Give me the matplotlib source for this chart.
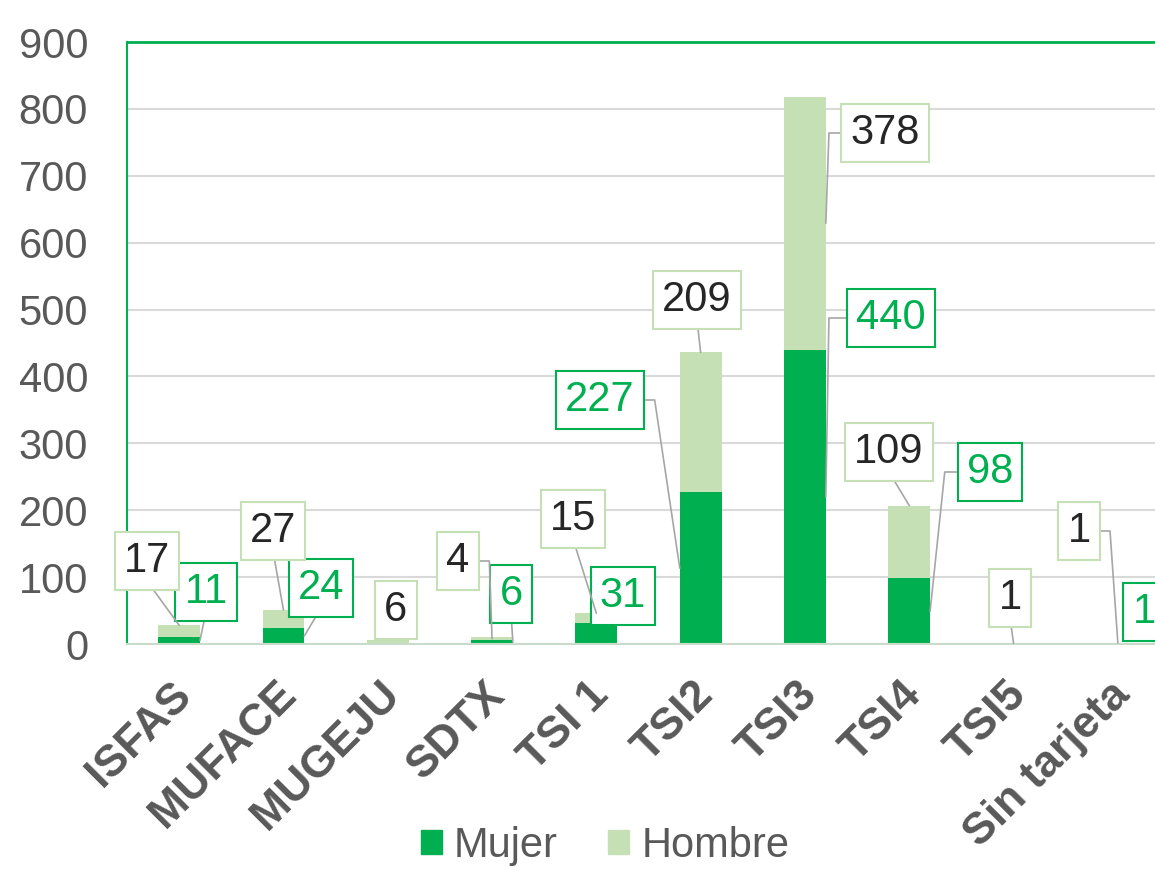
import numpy as np
import matplotlib
matplotlib.use("Agg")
import matplotlib.pyplot as plt
from matplotlib.patches import Patch
from matplotlib.transforms import ScaledTranslation

# datos
categorias = ["ISFAS", "MUFACE", "MUGEJU", "SDTX", "TSI 1", "TSI2", "TSI3", "TSI4", "TSI5", "Sin tarjeta"]
mujer = [11, 24, 0, 6, 31, 227, 440, 98, 0, 1]
hombre = [17, 27, 6, 4, 15, 209, 378, 109, 1, 1]
yticks = [0, 100, 200, 300, 400, 500, 600, 700, 800, 900]

VERDE = "#00B050"
VERDE_CLARO = "#C5E0B4"
GRIS = "#595959"
GRIS_GUIA = "#A6A6A6"

W, H = 1155, 869
ANCHO = 0.4

# posicion de cada etiqueta (centro de la caja en pixeles de la imagen)
# guia: None | ("recta", lado, nivel) | ("codo", lado, nivel, anguloB, relpos_x)
etiquetas_mujer = {
    0: (206, 592, ("recta", 1, "mid")),
    1: (321, 588, ("recta", 1, "mid")),
    3: (511, 594, ("recta", 1, "mid")),
    4: (623, 596, None),
    5: (600, 400, ("codo", -1, "mid", 98.5, 1)),
    6: (891, 318, ("codo", 1, "mid", 89, 0)),
    7: (990, 472, ("codo", 1, "mid", 84, 0)),
    9: (1144, 612, None),
}
etiquetas_hombre = {
    0: (147, 561, ("recta", 0, "top")),
    1: (273, 531, ("recta", 0, "top")),
    2: (396, 610, None),
    3: (458, 561, ("codo", 0, "mid", 92, 1)),
    4: (573, 519, ("recta", 0, "top")),
    5: (697, 300, ("recta", 0, "top")),
    6: (885, 133, ("codo", 1, "mid", 88, 0)),
    7: (889, 452, ("recta", 0, "top")),
    8: (1010, 598, ("recta", 0, "top")),
    9: (1079, 531, ("codo", 0, "mid", 94, 1)),
}

plt.rcParams["font.family"] = ["Liberation Sans", "DejaVu Sans"]

fig = plt.figure(figsize=(W / 100, H / 100), dpi=100)
ax = fig.add_axes([127 / W, (H - 644) / H, 1043 / W, 602 / H])

x = np.arange(len(categorias))
ax.bar(x, mujer, width=ANCHO, color=VERDE, zorder=2)
ax.bar(x, hombre, width=ANCHO, bottom=mujer, color=VERDE_CLARO, zorder=2)

ax.set_xlim(-0.5, len(categorias) - 0.5)
ax.set_ylim(0, 900)
ax.set_yticks(yticks)
ax.yaxis.grid(True, color="#D9D9D9", lw=1.5)
ax.set_axisbelow(True)

ax.spines["right"].set_visible(False)
ax.spines["left"].set_color(VERDE)
ax.spines["left"].set_linewidth(1.5)
ax.spines["top"].set_color(VERDE)
ax.spines["top"].set_linewidth(2)
ax.spines["bottom"].set_color("#C9DCC9")
ax.spines["bottom"].set_linewidth(1.5)

ax.tick_params(axis="y", length=0, pad=28, labelsize=30, labelcolor=GRIS)
ax.tick_params(axis="x", length=0, pad=32)
ax.set_xticks(x)
ax.set_xticklabels(categorias, rotation=45, ha="right", va="center",
                   rotation_mode="anchor", fontweight="bold", fontsize=32, color=GRIS)
desp = ScaledTranslation(6 / 100, 0, fig.dpi_scale_trans)
for lbl in ax.get_xticklabels():
    lbl.set_transform(lbl.get_transform() + desp)


def etiquetar(valores, base, conf, color_txt, color_borde):
    for i, (bx, by, guia) in conf.items():
        v = valores[i]
        if v == 0:
            continue
        arrow = None
        xa, ya = i, base[i] + v
        if guia is not None:
            lado, nivel = guia[1], guia[2]
            xa = i + lado * ANCHO / 2
            ya = base[i] + (v if nivel == "top" else v / 2)
            if guia[0] == "recta":
                arrow = dict(arrowstyle="-", color=GRIS_GUIA, lw=1.2,
                             shrinkA=0, shrinkB=0, relpos=(0.5, 0))
            else:
                arrow = dict(arrowstyle="-", color=GRIS_GUIA, lw=1.2,
                             shrinkA=0, shrinkB=0, relpos=(guia[4], 0.5),
                             connectionstyle=f"angle,angleA=0,angleB={guia[3]},rad=0")
        ax.annotate(str(v), xy=(xa, ya), xycoords="data",
                    xytext=(bx, H - by), textcoords="figure pixels",
                    ha="center", va="center", fontsize=30, color=color_txt,
                    bbox=dict(boxstyle="square,pad=0.22", fc="white",
                              ec=color_borde, lw=1.5),
                    arrowprops=arrow, annotation_clip=False, zorder=4)


etiquetar(mujer, [0] * len(mujer), etiquetas_mujer, VERDE, VERDE)
etiquetar(hombre, mujer, etiquetas_hombre, "#262626", VERDE_CLARO)

handles = [Patch(color=VERDE, label="Mujer"), Patch(color=VERDE_CLARO, label="Hombre")]
fig.legend(handles=handles, loc="center", bbox_to_anchor=(605 / W, 23 / H), ncol=2,
           frameon=False, fontsize=30, handlelength=0.5, handleheight=0.5,
           handletextpad=0.3, columnspacing=1.2, labelcolor=GRIS,
           borderpad=0, borderaxespad=0)

fig.savefig("out.png", dpi=100)
